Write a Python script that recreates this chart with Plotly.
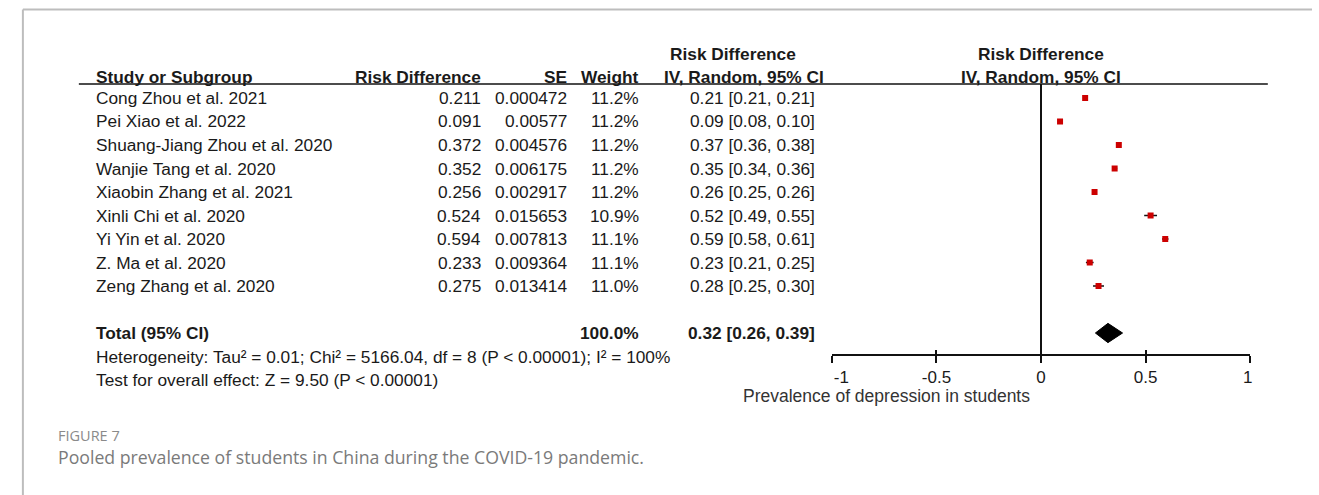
import plotly.graph_objects as go

W, H = 1319, 495

# ---------------- data ----------------
studies = ["Cong Zhou et al. 2021", "Pei Xiao et al. 2022", "Shuang-Jiang Zhou et al. 2020",
           "Wanjie Tang et al. 2020", "Xiaobin Zhang et al. 2021", "Xinli Chi et al. 2020",
           "Yi Yin et al. 2020", "Z. Ma et al. 2020", "Zeng Zhang et al. 2020"]
risk_diff = [0.211, 0.091, 0.372, 0.352, 0.256, 0.524, 0.594, 0.233, 0.275]
se_values = [0.000472, 0.00577, 0.004576, 0.006175, 0.002917, 0.015653, 0.007813, 0.009364, 0.013414]
se_labels = ["0.000472", "0.00577", "0.004576", "0.006175", "0.002917", "0.015653", "0.007813", "0.009364", "0.013414"]
weights = ["11.2%", "11.2%", "11.2%", "11.2%", "11.2%", "10.9%", "11.1%", "11.1%", "11.0%"]
ci_labels = ["0.21 [0.21, 0.21]", "0.09 [0.08, 0.10]", "0.37 [0.36, 0.38]", "0.35 [0.34, 0.36]",
             "0.26 [0.25, 0.26]", "0.52 [0.49, 0.55]", "0.59 [0.58, 0.61]", "0.23 [0.21, 0.25]",
             "0.28 [0.25, 0.30]"]
pooled_est, pooled_lo, pooled_hi = 0.32, 0.26, 0.39
total_weight = "100.0%"
total_ci = "0.32 [0.26, 0.39]"
heterogeneity = "Heterogeneity: Tau² = 0.01; Chi² = 5166.04, df = 8 (P < 0.00001); I² = 100%"
overall = "Test for overall effect: Z = 9.50 (P < 0.00001)"
tick_vals = [-1, -0.5, 0, 0.5, 1]
tick_text = ["\u00a0\u00a0\u00a0\u00a0-1", "-0.5", "0", "0.5", "1\u00a0"]
axis_label = "Prevalence of depression in students"
caption_label = "FIGURE 7"
caption_text = "Pooled prevalence of students in China during the COVID-19 pandemic."

# ---------------- layout helpers ----------------
FONT = "Liberation Sans, Arial, sans-serif"
TXT = "#1a1a1a"
FS = 17.3
ROW0, ROWH = 98.0, 23.5           # pixel centre of first row, row pitch
TOTAL_ROW = 10
AX_TOP, AX_BOT = 84.0, 354.0      # pixel top/bottom of the forest panel
X_LEFT, X_RIGHT = 830.0, 1256.0   # pixel of -1 and 1

def px(x):
    return x / W

def py(y):
    return 1 - y / H

y_top_idx = (AX_TOP - ROW0) / ROWH
y_bot_idx = (AX_BOT - ROW0) / ROWH
rows = list(range(len(studies)))

fig = go.Figure()

# study estimates with 95% CI whiskers
fig.add_trace(go.Scatter(
    x=risk_diff, y=rows, mode="markers",
    marker=dict(symbol="square", size=6, color="#cc0000", line=dict(width=0)),
    error_x=dict(type="data", array=[1.96 * s for s in se_values], color="#111111",
                 thickness=1.5, width=0),
    hoverinfo="skip", showlegend=False, xaxis="x", yaxis="y"))

# pooled diamond
dh = 0.41
fig.add_trace(go.Scatter(
    x=[pooled_lo, pooled_est, pooled_hi, pooled_est, pooled_lo],
    y=[TOTAL_ROW, TOTAL_ROW - dh, TOTAL_ROW, TOTAL_ROW + dh, TOTAL_ROW],
    mode="lines", fill="toself", fillcolor="#000000", line=dict(color="#000000", width=1),
    hoverinfo="skip", showlegend=False, xaxis="x2", yaxis="y"))

ann = []

def add(text, x, y, xanchor="left", bold=False, yref="y", xref="paper", size=FS,
        color=TXT, family=FONT):
    ann.append(dict(text=f"<b>{text}</b>" if bold else text, x=x, y=y, xref=xref, yref=yref,
                    xanchor=xanchor, yanchor="middle", showarrow=False,
                    font=dict(family=family, size=size, color=color)))

# headers
H1, H2 = 54, 77
add("Risk Difference", px(663), py(H1), "left", True, "paper")
add("Risk Difference", 0, py(H1), "center", True, "paper", "x")
add("Study or Subgroup", px(78), py(H2), "left", True, "paper")
add("Risk Difference", px(475), py(H2), "right", True, "paper")
add("SE", px(562), py(H2), "right", True, "paper")
add("Weight", px(636), py(H2), "right", True, "paper")
add("IV, Random, 95% CI", px(657), py(H2), "left", True, "paper")
add("IV, Random, 95% CI", 0, py(H2), "center", True, "paper", "x")

# study rows
for i, name in enumerate(studies):
    add(name, px(78), i, "left")
    add(f"{risk_diff[i]:.3f}", px(475), i, "right")
    add(se_labels[i], px(562), i, "right")
    add(weights[i], px(636), i, "right")
    add(ci_labels[i], px(815), i, "right")

# total row
add("Total (95% CI)", px(78), TOTAL_ROW, "left", True)
add(total_weight, px(636), TOTAL_ROW, "right", True)
add(total_ci, px(815), TOTAL_ROW, "right", True)
add(heterogeneity, px(78), py(ROW0 + ROWH * 11), "left", False, "paper")
add(overall, px(78), py(ROW0 + ROWH * 12), "left", False, "paper")

# axis label
add(axis_label, px(737), py(396), "left", False, "paper", size=17.5, color="#333333")

# caption
add(caption_label, px(40), py(435), "left", False, "paper", size=14.5, color="#8a8a8a",
    family="Open Sans, Noto Sans, sans-serif")
add(caption_text, px(40), py(457), "left", False, "paper", size=17.7, color="#7a7a7a",
    family="Open Sans, Noto Sans, sans-serif")

shapes = [
    # outer frame (top and left edges)
    dict(type="line", xref="paper", yref="paper", x0=px(6), x1=1, y0=py(9.5), y1=py(9.5),
         line=dict(color="#bdbdbd", width=2)),
    dict(type="line", xref="paper", yref="paper", x0=px(6), x1=px(6), y0=py(9.5), y1=0,
         line=dict(color="#bdbdbd", width=2)),
    # header rule
    dict(type="line", xref="paper", yref="paper", x0=px(63), x1=px(1274), y0=py(AX_TOP), y1=py(AX_TOP),
         line=dict(color="#111111", width=1.5)),
]

xdom = [px(X_LEFT), px(X_RIGHT)]
ydom = [py(AX_BOT), py(AX_TOP)]

fig.update_layout(
    width=W, height=H, margin=dict(l=0, r=0, t=0, b=0),
    paper_bgcolor="white", plot_bgcolor="rgba(0,0,0,0)",
    annotations=ann, shapes=shapes, showlegend=False,
    xaxis=dict(domain=xdom, range=[-1, 1], anchor="y", showgrid=False,
               showline=True, linecolor="#111111", linewidth=1.5,
               ticks="outside", ticklen=7, tickwidth=1.5, tickcolor="#111111",
               tickvals=tick_vals, ticktext=tick_text,
               tickfont=dict(family=FONT, size=17, color=TXT),
               zeroline=True, zerolinecolor="#111111", zerolinewidth=1.5, fixedrange=True),
    xaxis2=dict(domain=xdom, range=[-1, 1], anchor="y", overlaying="x", side="bottom",
                showgrid=False, showline=False, zeroline=False,
                ticks="inside", ticklen=4, tickwidth=1.5, tickcolor="#111111",
                tickvals=tick_vals, showticklabels=False, fixedrange=True),
    yaxis=dict(domain=ydom, range=[y_bot_idx, y_top_idx], visible=False, fixedrange=True),
)

fig.write_html("out.html")
